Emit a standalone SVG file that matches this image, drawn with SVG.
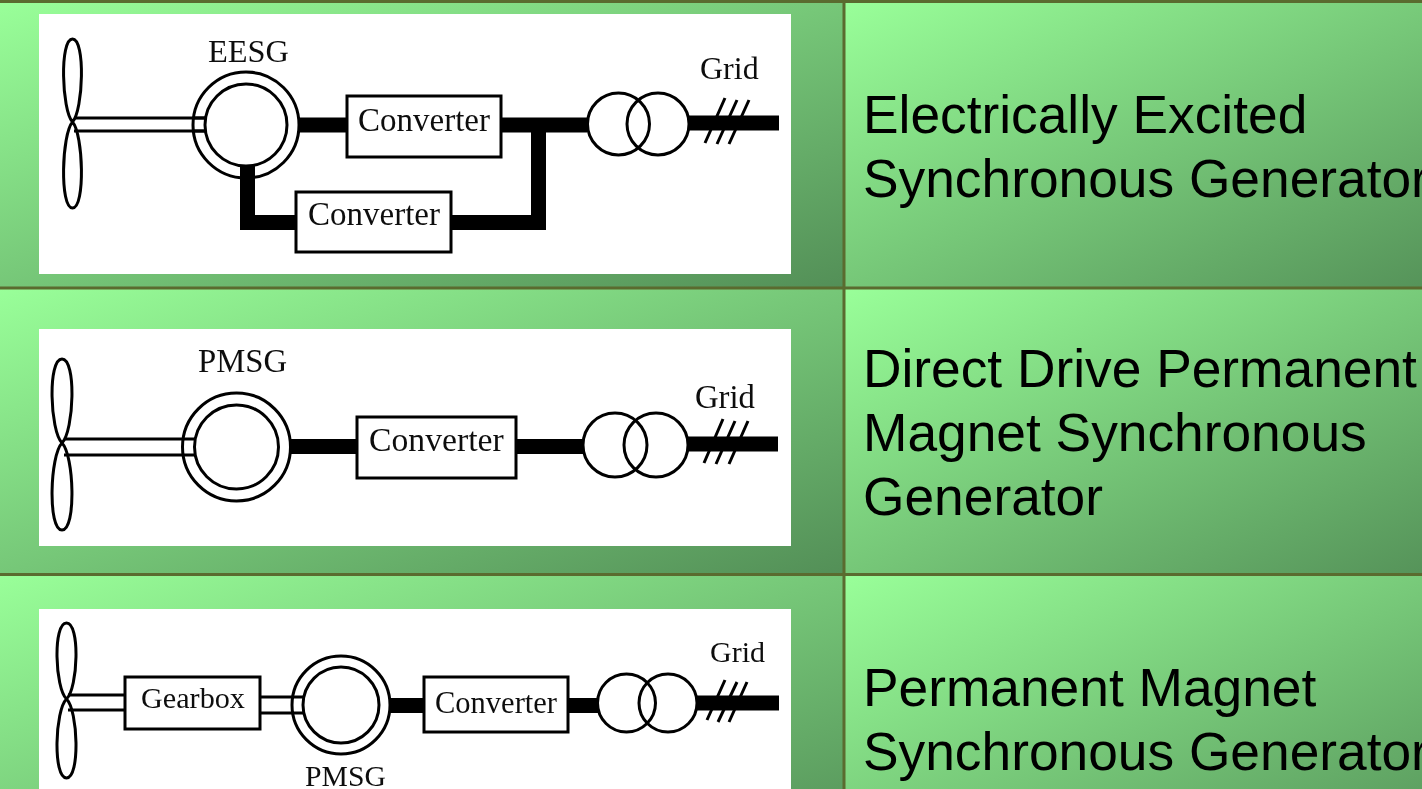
<svg xmlns="http://www.w3.org/2000/svg" width="1422" height="789" viewBox="0 0 1422 789">
<style>
.cell{fill:url(#cellGrad)}
.rule{stroke:#5a6b2f;stroke-width:3;fill:none}
.panel{fill:#fff}
.ln{fill:none;stroke:#000;stroke-width:3}
.box{fill:#fff;stroke:#000;stroke-width:3}
.thick{fill:none;stroke:#000;stroke-width:15;stroke-linejoin:miter}
.shaft{fill:none;stroke:#000;stroke-width:2.800}
.hash{fill:none;stroke:#000;stroke-width:3}
.s{font-family:"Liberation Serif","Times New Roman",serif;fill:#111}
.t{font-family:"Liberation Sans",Arial,sans-serif;font-size:53.300px;fill:#000}
</style>
<defs>
<linearGradient id="cellGrad" x1="0" y1="0" x2="1" y2="1">
<stop offset="0" stop-color="#99ff99"/>
<stop offset="1" stop-color="#538f57"/>
</linearGradient>
<filter id="soft" x="-2%" y="-2%" width="104%" height="104%"><feGaussianBlur stdDeviation="0.7"/></filter>
<filter id="softText" x="-2%" y="-2%" width="104%" height="104%"><feGaussianBlur stdDeviation="0.4"/></filter>
</defs>
<g id="table">
<rect class="cell" x="0" y="2" width="844" height="286"/>
<rect class="cell" x="844" y="2" width="625" height="286"/>
<rect class="cell" x="0" y="288" width="844" height="286"/>
<rect class="cell" x="844" y="288" width="625" height="286"/>
<rect class="cell" x="0" y="574" width="844" height="288"/>
<rect class="cell" x="844" y="574" width="625" height="288"/>
<path class="rule" d="M0 1.500H1422M0 288H1422M0 574.500H1422M844 0V789"/>
<rect class="panel" x="39" y="14" width="752" height="260"/>
<rect class="panel" x="39" y="329" width="752" height="217"/>
<rect class="panel" x="39" y="609" width="752" height="180"/>
</g>
<g filter="url(#soft)">
<g id="connectors">
<path class="shaft" d="M74 118H206M74 131H206"/>
<path class="thick" d="M299 125H347"/>
<path class="thick" d="M247.500 165V222.500H296"/>
<path class="thick" d="M501 125H587"/>
<path class="thick" d="M451 222.500H538.500V125"/>
<path class="thick" d="M689 123H779"/>
<path class="hash" d="M725 98L705 143M737 100L717 144M749 100L729 144"/>
<path class="shaft" d="M64 439H195M64 455H195"/>
<path class="thick" d="M291 446.500H357"/>
<path class="thick" d="M516 446.500H584"/>
<path class="thick" d="M688 444H778"/>
<path class="hash" d="M723 419L704 463M735 421L716 464M748 421L729 464"/>
<path class="shaft" d="M68 695H125M68 710H125"/>
<path class="shaft" d="M260 697H303M260 713H303"/>
<path class="thick" d="M390 705.500H424"/>
<path class="thick" d="M568 705.500H598"/>
<path class="thick" d="M697 703H779"/>
<path class="hash" d="M725 680L707 720M737 682L718 722M747 682L729 722"/>
</g>
<g id="row1">
<g id="turbine1"><path class="ln" d="M72.500 122C61.700 110 59.500 39 72.500 39C85.500 39 83.300 110 72.500 122C61.700 134 59.500 208 72.500 208C85.500 208 83.300 134 72.500 122Z"/></g>
<g id="eesg"><circle class="ln" cx="246" cy="125" r="53"/><circle class="ln" cx="246" cy="125" r="41"/><path class="ln" d="M193 118H206M193 131H206"/><text class="s" x="208" y="62" font-size="32.400">EESG</text></g>
<g id="converter1a"><rect class="box" x="347" y="96" width="154" height="61"/><text class="s" x="358" y="131" font-size="33">Converter</text></g>
<g id="converter1b"><rect class="box" x="296" y="192" width="155" height="60"/><text class="s" x="308" y="225" font-size="33">Converter</text></g>
<g id="transformer1"><circle class="ln" cx="618.500" cy="124" r="31"/><circle class="ln" cx="658" cy="124" r="31"/></g>
<g id="grid1"><text class="s" x="700" y="79" font-size="32">Grid</text></g>
</g>
<g id="row2">
<g id="turbine2"><path class="ln" d="M62 443C50 431 47.500 359 62 359C76.500 359 74 431 62 443C50 455 47.500 530 62 530C76.500 530 74 455 62 443Z"/></g>
<g id="pmsg2"><circle class="ln" cx="236.500" cy="447" r="54"/><circle class="ln" cx="236.500" cy="447" r="42"/><text class="s" x="198" y="372" font-size="32.700">PMSG</text></g>
<g id="converter2"><rect class="box" x="357" y="417" width="159" height="61"/><text class="s" x="369" y="451" font-size="33.700">Converter</text></g>
<g id="transformer2"><circle class="ln" cx="615" cy="445" r="32"/><circle class="ln" cx="656" cy="445" r="32"/></g>
<g id="grid2"><text class="s" x="695" y="408" font-size="32.700">Grid</text></g>
</g>
<g id="row3">
<g id="turbine3"><path class="ln" d="M66.500 699C55 688 52.700 623 66.500 623C80.300 623 78 688 66.500 699C55 710 52.700 778 66.500 778C80.300 778 78 710 66.500 699Z"/></g>
<g id="gearbox"><rect class="box" x="125" y="677" width="135" height="52"/><text class="s" x="141" y="708" font-size="30.200">Gearbox</text></g>
<g id="pmsg3"><circle class="ln" cx="341" cy="705" r="49"/><circle class="ln" cx="341" cy="705" r="38"/><text class="s" x="305" y="786" font-size="29.700">PMSG</text></g>
<g id="converter3"><rect class="box" x="424" y="677" width="144" height="55"/><text class="s" x="435" y="713" font-size="30.500">Converter</text></g>
<g id="transformer3"><circle class="ln" cx="626.500" cy="703" r="29"/><circle class="ln" cx="668" cy="703" r="29"/></g>
<g id="grid3"><text class="s" x="710" y="662" font-size="30">Grid</text></g>
</g>
</g>
<g id="labels" filter="url(#softText)">
<text class="t" x="863" y="133">Electrically Excited</text>
<text class="t" x="863" y="197">Synchronous Generator</text>
<text class="t" x="863" y="387">Direct Drive Permanent</text>
<text class="t" x="863" y="451">Magnet Synchronous</text>
<text class="t" x="863" y="515">Generator</text>
<text class="t" x="863" y="706">Permanent Magnet</text>
<text class="t" x="863" y="770">Synchronous Generator</text>
</g>
</svg>
